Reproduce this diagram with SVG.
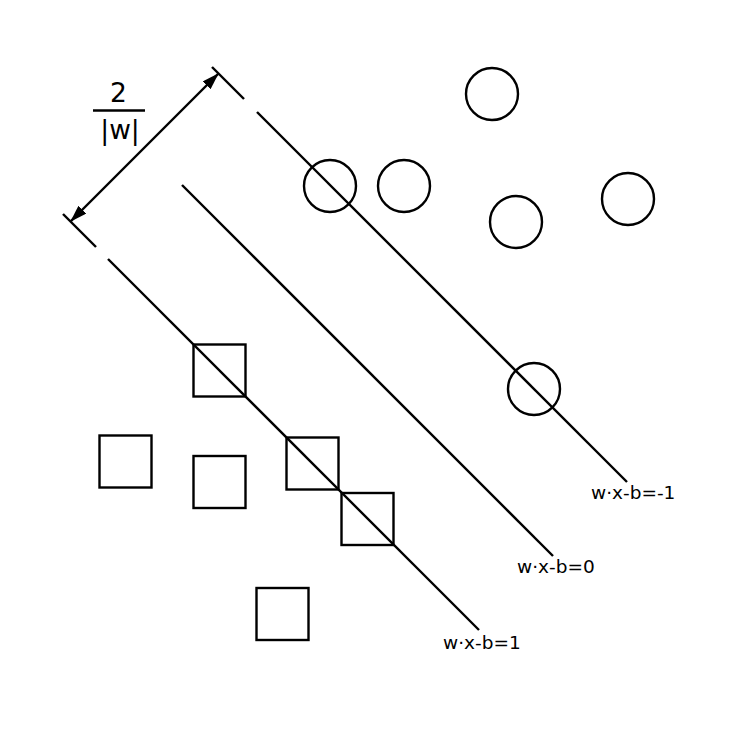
<svg xmlns="http://www.w3.org/2000/svg" width="734" height="734" viewBox="0 0 734 734">
<style>
.ln{stroke:#000;stroke-width:2.4;fill:none}
.sh{stroke:#000;stroke-width:2.4;fill:none}
.lbl{font-family:"DejaVu Sans",Verdana,sans-serif;font-size:18.5px;fill:#000}
.frac{font-family:"DejaVu Sans",Verdana,sans-serif;font-size:26.5px;fill:#000;text-anchor:middle}
</style>
<defs>
<marker id="ah" viewBox="0 0 17 11" refX="16" refY="5.5" markerWidth="17" markerHeight="11" markerUnits="userSpaceOnUse" orient="auto-start-reverse">
<path d="M0,0 L17,5.5 L0,11 Z" fill="#000"/>
</marker>
</defs>
<rect width="734" height="734" fill="#fff"/>
<g id="connectors">
<line class="ln" x1="212" y1="67" x2="244" y2="99"/>
<line class="ln" x1="257" y1="112" x2="627" y2="482"/>
<line class="ln" x1="182" y1="185" x2="553" y2="556"/>
<line class="ln" x1="63" y1="214" x2="96" y2="247"/>
<line class="ln" x1="108" y1="259" x2="479" y2="630"/>
<line class="ln" x1="71" y1="221" x2="218" y2="74" marker-start="url(#ah)" marker-end="url(#ah)"/>
</g>
<g id="c1"><circle class="sh" cx="492" cy="94" r="26"/></g>
<g id="c2"><circle class="sh" cx="330" cy="186" r="26"/></g>
<g id="c3"><circle class="sh" cx="404" cy="186" r="26"/></g>
<g id="c4"><circle class="sh" cx="516" cy="222" r="26"/></g>
<g id="c5"><circle class="sh" cx="628" cy="199" r="26"/></g>
<g id="c6"><circle class="sh" cx="534" cy="389" r="26"/></g>
<g id="s1"><rect class="sh" x="193.5" y="344.5" width="52" height="52"/></g>
<g id="s2"><rect class="sh" x="99.5" y="435.5" width="52" height="52"/></g>
<g id="s3"><rect class="sh" x="193.5" y="456" width="52" height="52"/></g>
<g id="s4"><rect class="sh" x="286.5" y="437.5" width="52" height="52"/></g>
<g id="s5"><rect class="sh" x="341.5" y="493" width="52" height="52"/></g>
<g id="s6"><rect class="sh" x="256.5" y="588" width="52" height="52"/></g>
<g id="fraction">
<text class="frac" x="118.5" y="102">2</text>
<line class="ln" x1="93" y1="110.5" x2="145" y2="110.5"/>
<text class="frac" x="120" y="139">|w|</text>
</g>
<g id="labels">
<text class="lbl" x="591" y="499">w·x-b=-1</text>
<text class="lbl" x="517" y="573">w·x-b=0</text>
<text class="lbl" x="443" y="649">w·x-b=1</text>
</g>
</svg>
